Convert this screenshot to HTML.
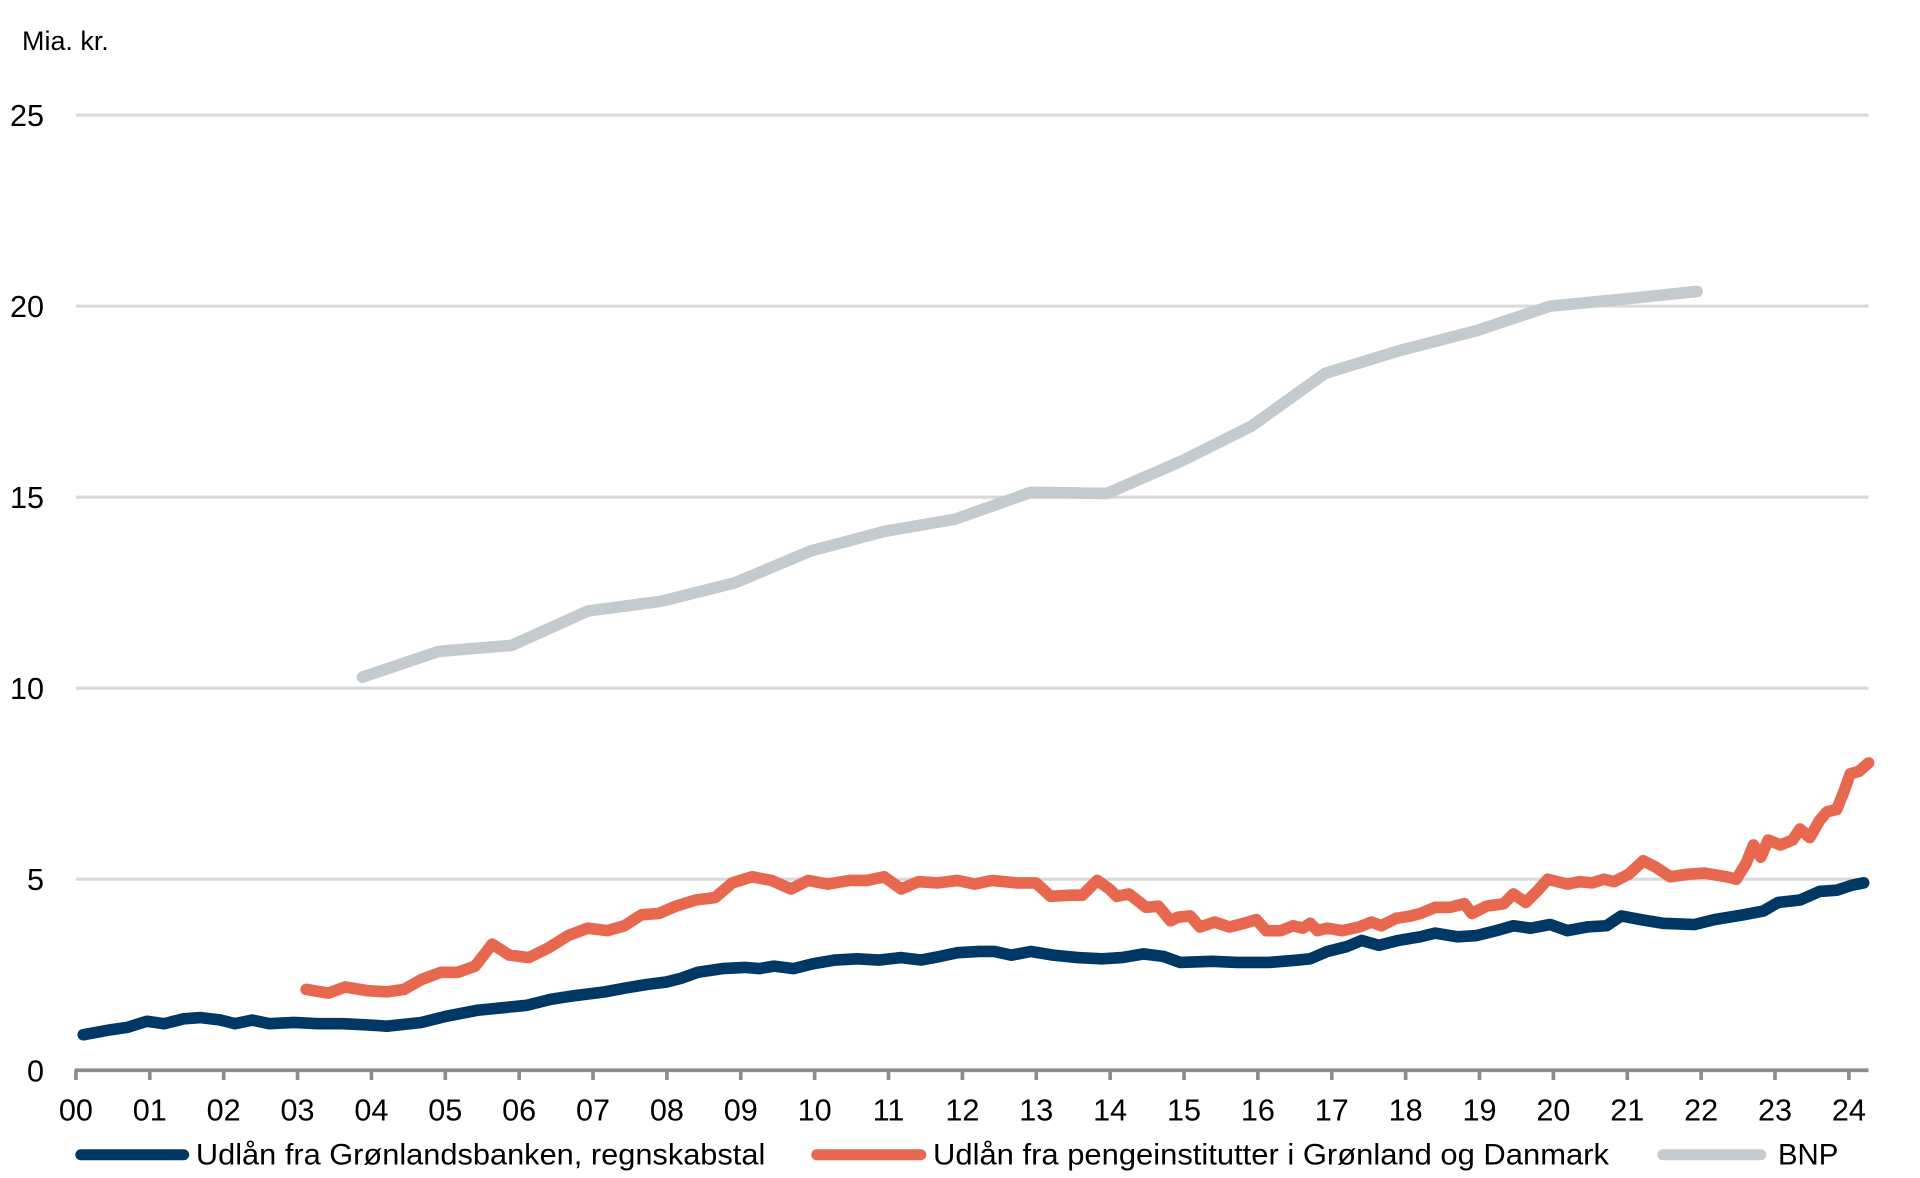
<!DOCTYPE html>
<html><head><meta charset="utf-8"><style>html,body{margin:0;padding:0;background:#fff}svg{display:block}</style></head>
<body>
<svg width="1920" height="1178" viewBox="0 0 1568 962" preserveAspectRatio="none" xmlns="http://www.w3.org/2000/svg" font-family="'Liberation Sans',sans-serif" fill="#000">
<text x="18" y="41" font-size="22">Mia. kr.</text>
<g stroke="#d9d9d9" stroke-width="2.5">
<line x1="62" x2="1526" y1="94" y2="94"/><line x1="62" x2="1526" y1="250" y2="250"/><line x1="62" x2="1526" y1="406" y2="406"/><line x1="62" x2="1526" y1="562" y2="562"/><line x1="62" x2="1526" y1="718" y2="718"/>
</g>
<g font-size="25" text-anchor="end">
<text x="36" y="103">25</text><text x="36" y="259">20</text><text x="36" y="415">15</text><text x="36" y="571">10</text><text x="36" y="727">5</text><text x="36" y="883">0</text>
</g>
<line x1="61" x2="1526" y1="874" y2="874" stroke="#8c8c8c" stroke-width="3"/>
<g stroke="#8c8c8c" stroke-width="3" id="ticks"></g>
<g font-size="25" text-anchor="middle" id="xl"></g>
<g fill="none" stroke-linecap="round" stroke-linejoin="round" stroke-width="9.5">
<polyline stroke="#c4cbcf" points="296,553 358,532 418,527 480,499 540,491 600,476 662,450 722,434 780,424 842,402 904,403 966,376 1022,348 1082,305 1144,286 1206,270 1266,250 1328,244 1386,238"/>
<polyline stroke="#e8684f" points="250,808 268,811 282,806 300,809 316,810 330,808 344,800 360,794 374,794 388,789 402,771 416,780 432,782 448,774 464,764 480,758 496,760 510,756 524,747 538,746 552,740 568,735 584,733 598,721 614,716 630,719 646,726 660,719 676,722 694,719 708,719 722,716 736,726 750,720 766,721 782,719 796,722 810,719 830,721 846,721 858,732 874,731 884,731 896,719 906,726 912,732 922,730 936,741 946,740 956,752 962,749 972,748 980,757 992,753 1004,757 1016,754 1026,751 1034,760 1046,760 1056,756 1064,758 1070,754 1076,760 1084,758 1096,760 1110,757 1120,753 1128,756 1140,750 1152,748 1160,746 1172,741 1184,741 1196,738 1202,746 1214,740 1228,738 1236,730 1246,737 1256,727 1264,718 1280,722 1290,720 1300,721 1310,718 1318,720 1330,714 1342,703 1352,708 1364,716 1378,714 1392,713 1410,716 1418,718 1426,705 1432,690 1438,700 1444,686 1454,690 1464,686 1470,677 1478,684 1486,670 1492,663 1500,661 1506,646 1511,632 1518,630 1526,623"/>
<polyline stroke="#003865" points="68,845 90,841 104,839 120,834 134,836 150,832 164,831 180,833 192,836 206,833 220,836 240,835 260,836 280,836 300,837 316,838 344,835 364,830 390,825 410,823 430,821 450,816 470,813 494,810 510,807 528,804 544,802 556,799 570,794 590,791 608,790 620,791 632,789 648,791 664,787 682,784 700,783 718,784 736,782 752,784 768,781 782,778 800,777 812,777 826,780 842,777 860,780 880,782 900,783 916,782 934,779 950,781 964,786 990,785 1010,786 1036,786 1060,784 1070,783 1084,777 1100,773 1112,768 1126,772 1142,768 1160,765 1172,762 1190,765 1206,764 1222,760 1236,756 1250,758 1266,755 1280,760 1296,757 1312,756 1324,748 1340,751 1358,754 1384,755 1400,751 1424,747 1440,744 1452,737 1470,735 1486,728 1500,727 1512,723 1522,721"/>
</g>
<g stroke-linecap="round" stroke-width="9">
<line x1="66" x2="150" y1="943" y2="943" stroke="#003865"/>
<line x1="667" x2="752" y1="943" y2="943" stroke="#e8684f"/>
<line x1="1358" x2="1438" y1="943" y2="943" stroke="#c4cbcf"/>
</g>
<g font-size="24">
<text x="160" y="951" textLength="465" lengthAdjust="spacingAndGlyphs">Udlån fra Grønlandsbanken, regnskabstal</text>
<text x="762" y="951" textLength="552" lengthAdjust="spacingAndGlyphs">Udlån fra pengeinstitutter i Grønland og Danmark</text>
<text x="1452" y="951">BNP</text>
</g>
<script>
var t=document.getElementById('ticks'),l=document.getElementById('xl'),ns='http://www.w3.org/2000/svg';
for(var i=0;i<=24;i++){var x=62+i*60.33;var a=document.createElementNS(ns,'line');a.setAttribute('x1',x);a.setAttribute('x2',x);a.setAttribute('y1',874);a.setAttribute('y2',882);t.appendChild(a);
var s=document.createElementNS(ns,'text');s.setAttribute('x',x);s.setAttribute('y',915);s.textContent=(i<10?'0':'')+i;l.appendChild(s);}
</script>
</svg>
</body></html>
